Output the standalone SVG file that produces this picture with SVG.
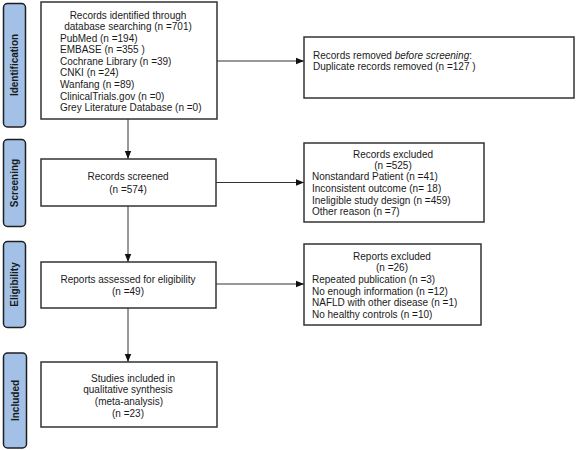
<svg xmlns="http://www.w3.org/2000/svg" width="576" height="450" viewBox="0 0 576 450">
<style>
text{font-family:"Liberation Sans",Arial,sans-serif;font-size:10px;fill:#1a1a1a}
.c{text-anchor:middle}
.tab{fill:#a3c1e6;stroke:#1f1f1f;stroke-width:1.5}
.tabt{font-weight:bold;font-size:10px;text-anchor:middle}
.box{fill:#fff;stroke:#333;stroke-width:1.5}
.ln{stroke:#333;stroke-width:1;fill:none}
</style>
<defs>
<marker id="ah" viewBox="0 0 8 8" refX="8" refY="4" markerWidth="8" markerHeight="8" markerUnits="userSpaceOnUse" orient="auto">
<path d="M0,0.8 L8,4 L0,7.2 Z" fill="#111"/>
</marker>
</defs>
<rect width="576" height="450" fill="#fff"/>
<g id="tab-identification">
<rect class="tab" x="3.5" y="3.5" width="22" height="123.5" rx="4"/>
<text class="tabt" transform="translate(18,65) rotate(-90)">Identification</text>
</g>
<g id="tab-screening">
<rect class="tab" x="3.5" y="139.5" width="22" height="87" rx="4"/>
<text class="tabt" transform="translate(18,183) rotate(-90)">Screening</text>
</g>
<g id="tab-eligibility">
<rect class="tab" x="3.5" y="241.5" width="22" height="86" rx="4"/>
<text class="tabt" transform="translate(18,284.5) rotate(-90)">Eligibility</text>
</g>
<g id="tab-included">
<rect class="tab" x="3.5" y="353" width="23" height="95" rx="4"/>
<text class="tabt" transform="translate(18.5,400.5) rotate(-90)">Included</text>
</g>
<g id="connectors">
<line class="ln" x1="128" y1="119" x2="128" y2="159" marker-end="url(#ah)"/>
<line class="ln" x1="128" y1="206" x2="128" y2="262" marker-end="url(#ah)"/>
<line class="ln" x1="128" y1="308" x2="128" y2="362" marker-end="url(#ah)"/>
<line class="ln" x1="217" y1="61" x2="304" y2="61" marker-end="url(#ah)"/>
<line class="ln" x1="216" y1="182.5" x2="304" y2="182.5" marker-end="url(#ah)"/>
<line class="ln" x1="216" y1="284" x2="304" y2="284" marker-end="url(#ah)"/>
</g>
<g id="records-identified">
<rect class="box" x="41" y="2" width="176" height="117"/>
<text class="c" x="128" y="18.5">Records identified through</text>
<text class="c" x="128" y="30">database searching (n =701)</text>
<text x="60" y="41.5">PubMed (n =194)</text>
<text x="60" y="53">EMBASE (n =355 )</text>
<text x="60" y="64.5">Cochrane Library (n =39)</text>
<text x="60" y="76">CNKI (n =24)</text>
<text x="60" y="87.5">Wanfang (n =89)</text>
<text x="60" y="99.5">ClinicalTrials.gov (n =0)</text>
<text x="60" y="111">Grey Literature Database (n =0)</text>
</g>
<g id="records-removed">
<rect class="box" x="304" y="37" width="270" height="61"/>
<text x="313" y="58.5">Records removed <tspan font-style="italic">before screening</tspan>:</text>
<text x="313" y="70">Duplicate records removed (n =127 )</text>
</g>
<g id="records-screened">
<rect class="box" x="41" y="159" width="175" height="47"/>
<text class="c" x="128" y="179.5">Records screened</text>
<text class="c" x="128" y="193">(n =574)</text>
</g>
<g id="records-excluded">
<rect class="box" x="304" y="143" width="180" height="79"/>
<text class="c" x="393" y="157.5">Records excluded</text>
<text class="c" x="393" y="168.5">(n =525)</text>
<text x="312" y="180">Nonstandard Patient (n =41)</text>
<text x="312" y="192">Inconsistent outcome (n= 18)</text>
<text x="312" y="203.5">Ineligible study design (n =459)</text>
<text x="312" y="215">Other reason (n =7)</text>
</g>
<g id="reports-assessed">
<rect class="box" x="41" y="262" width="175" height="46"/>
<text class="c" x="128" y="283">Reports assessed for eligibility</text>
<text class="c" x="128" y="294.5">(n =49)</text>
</g>
<g id="reports-excluded">
<rect class="box" x="304" y="244" width="177" height="81"/>
<text class="c" x="392" y="259.5">Reports excluded</text>
<text class="c" x="392" y="271">(n =26)</text>
<text x="312" y="283">Repeated publication (n =3)</text>
<text x="312" y="294.5">No enough information (n =12)</text>
<text x="312" y="306">NAFLD with other disease (n =1)</text>
<text x="312" y="317.5">No healthy controls (n =10)</text>
</g>
<g id="studies-included">
<rect class="box" x="41" y="362" width="176" height="65"/>
<text class="c" x="133" y="381.5">Studies included in</text>
<text class="c" x="128" y="393">qualitative synthesis</text>
<text class="c" x="129" y="405">(meta-analysis)</text>
<text class="c" x="128" y="417">(n =23)</text>
</g>
</svg>
